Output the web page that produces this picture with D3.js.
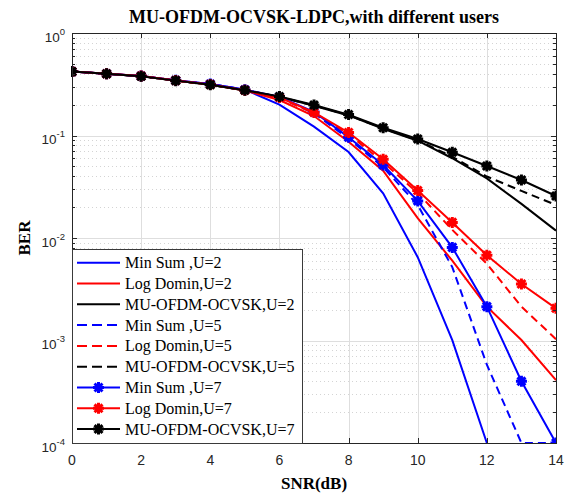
<!DOCTYPE html>
<html>
<head>
<meta charset="utf-8">
<script src="https://cdn.jsdelivr.net/npm/d3@7"></script>
<style>
  body { margin: 0; background: #fff; }
  svg { display: block; }
</style>
</head>
<body>
<div id="chart"></div>
<script>
// SNR values (dB)
var snr = [0, 1, 2, 3, 4, 5, 6, 7, 8, 9, 10, 11, 12, 13, 14];

// BER series (null = not drawn, zero BER)
var minSumU2  = [0.42, 0.40, 0.38, 0.345, 0.318, 0.28, 0.20, 0.122, 0.069, 0.0273, 0.0065, 0.00101, 0.0001, null, null];
var logDomU2  = [0.42, 0.40, 0.38, 0.344, 0.315, 0.275, 0.222, 0.155, 0.087, 0.0454, 0.0156, 0.006, 0.00214, 0.00101, 0.00041];
var muU2      = [0.42, 0.40, 0.378, 0.343, 0.312, 0.275, 0.238, 0.195, 0.157, 0.116, 0.089, 0.06, 0.0382, 0.0215, 0.0118];
var minSumU5  = [0.42, 0.40, 0.38, 0.345, 0.318, 0.28, 0.235, 0.165, 0.093, 0.049, 0.021, 0.0052, 0.00058, 0.0001, 0.0001];
var logDomU5  = [0.42, 0.40, 0.38, 0.344, 0.315, 0.276, 0.232, 0.165, 0.103, 0.055, 0.0275, 0.012, 0.0056, 0.00214, 0.00103];
var muU5      = [0.42, 0.40, 0.378, 0.343, 0.312, 0.276, 0.238, 0.196, 0.158, 0.117, 0.09, 0.062, 0.0398, 0.0288, 0.021];
var minSumU7  = [0.42, 0.40, 0.38, 0.345, 0.318, 0.28, 0.238, 0.17, 0.096, 0.0515, 0.023, 0.0081, 0.00214, 0.0004, 0.0001];
var logDomU7  = [0.42, 0.40, 0.38, 0.344, 0.315, 0.277, 0.235, 0.168, 0.107, 0.0586, 0.029, 0.0142, 0.0068, 0.00356, 0.00206];
var muU7      = [0.42, 0.40, 0.378, 0.343, 0.312, 0.277, 0.24, 0.198, 0.16, 0.119, 0.0925, 0.0686, 0.0504, 0.0368, 0.0257];

var seriesNames = ["Min Sum ,U=2", "Log Domin,U=2", "MU-OFDM-OCVSK,U=2",
                   "Min Sum ,U=5", "Log Domin,U=5", "MU-OFDM-OCVSK,U=5",
                   "Min Sum ,U=7", "Log Domin,U=7", "MU-OFDM-OCVSK,U=7"];
var seriesValues = [minSumU2, logDomU2, muU2, minSumU5, logDomU5, muU5, minSumU7, logDomU7, muU7];
var seriesColors = ["#0000ff", "#ff0000", "#000000", "#0000ff", "#ff0000", "#000000", "#0000ff", "#ff0000", "#000000"];
var seriesDashed = [false, false, false, true, true, true, false, false, false];
var seriesMarker = [false, false, false, false, false, false, true, true, true];

var xTicks = [0, 2, 4, 6, 8, 10, 12, 14];
var yTicks = [1, 0.1, 0.01, 0.001, 0.0001];
var yExponents = ["0", "-1", "-2", "-3", "-4"];

var titleText = "MU-OFDM-OCVSK-LDPC,with different users";
var xLabel = "SNR(dB)";
var yLabel = "BER";

// SVG drawing area
var W = 569, H = 493;
var margin = {top: 33, right: 13, bottom: 50, left: 72};
var width = W - margin.left - margin.right,
    height = H - margin.top - margin.bottom;

var svgRoot = d3.select("#chart").append("svg")
    .attr("width", W)
    .attr("height", H);
var svg = svgRoot.append("g")
    .attr("transform", "translate(" + margin.left + "," + margin.top + ")");

var xScale = d3.scaleLinear().domain([0, 14]).range([0, width]);
var yScale = d3.scaleLog().domain([1e-4, 1]).range([height, 0]);

var axisColor = "#262626";

// minor values for log grid
var minorVals = [];
for (var e = -4; e < 0; e++) {
  for (var m = 2; m <= 9; m++) minorVals.push(m * Math.pow(10, e));
}

// grids
svg.append("g").selectAll("line.minor")
  .data(minorVals).enter().append("line")
    .attr("x1", 0).attr("x2", width)
    .attr("y1", function(d) { return Math.round(yScale(d)) + 0.5; })
    .attr("y2", function(d) { return Math.round(yScale(d)) + 0.5; })
    .attr("stroke", "#d4d4d4")
    .attr("stroke-width", 1)
    .attr("stroke-dasharray", "1,3");

svg.append("g").selectAll("line.hgrid")
  .data(yTicks).enter().append("line")
    .attr("x1", 0).attr("x2", width)
    .attr("y1", function(d) { return Math.round(yScale(d)) + 0.5; })
    .attr("y2", function(d) { return Math.round(yScale(d)) + 0.5; })
    .attr("stroke", "#dedede");

svg.append("g").selectAll("line.vgrid")
  .data(xTicks).enter().append("line")
    .attr("x1", function(d) { return Math.round(xScale(d)) + 0.5; })
    .attr("x2", function(d) { return Math.round(xScale(d)) + 0.5; })
    .attr("y1", 0).attr("y2", height)
    .attr("stroke", "#dedede");

// clip for curves
svgRoot.append("defs").append("clipPath").attr("id", "plotclip")
  .append("rect").attr("x", -1).attr("y", -1).attr("width", width + 2).attr("height", height + 2);

var line = d3.line()
    .defined(function(d) { return d[1] !== null; })
    .x(function(d) { return xScale(d[0]); })
    .y(function(d) { return yScale(d[1]); });

var curves = svg.append("g").attr("clip-path", "url(#plotclip)");

// MATLAB style '*' marker
function drawStar(g, x, y, color) {
  var r = 5.5;
  var a = r * 0.72;
  var p = "M" + (x - r) + "," + y + "L" + (x + r) + "," + y +
          "M" + x + "," + (y - r) + "L" + x + "," + (y + r) +
          "M" + (x - a) + "," + (y - a) + "L" + (x + a) + "," + (y + a) +
          "M" + (x - a) + "," + (y + a) + "L" + (x + a) + "," + (y - a);
  g.append("path").attr("d", p)
    .attr("stroke", color).attr("stroke-width", 3).attr("fill", "none");
}

seriesValues.forEach(function(vals, i) {
  var pts = snr.map(function(s, j) { return [s, vals[j]]; });
  curves.append("path")
    .datum(pts)
    .attr("d", line)
    .attr("fill", "none")
    .attr("stroke", seriesColors[i])
    .attr("stroke-width", 2)
    .attr("stroke-dasharray", seriesDashed[i] ? "8,5" : null);
  if (seriesMarker[i]) {
    pts.forEach(function(p) {
      if (p[1] !== null) drawStar(curves, xScale(p[0]), yScale(p[1]), seriesColors[i]);
    });
  }
});

// frame and ticks
var frame = svg.append("g");
frame.append("rect")
  .attr("x", 0.5).attr("y", 0.5).attr("width", width).attr("height", height)
  .attr("fill", "none").attr("stroke", axisColor).attr("stroke-width", 1);

xTicks.forEach(function(t) {
  var x = Math.round(xScale(t)) + 0.5;
  frame.append("line").attr("x1", x).attr("x2", x).attr("y1", height).attr("y2", height - 5).attr("stroke", axisColor);
  frame.append("line").attr("x1", x).attr("x2", x).attr("y1", 0).attr("y2", 5).attr("stroke", axisColor);
  svg.append("text")
    .attr("x", xScale(t)).attr("y", height + 22)
    .attr("text-anchor", "middle")
    .style("font-family", "Liberation Sans, Arial, sans-serif")
    .style("font-size", "14px")
    .attr("fill", axisColor)
    .text(t);
});

yTicks.forEach(function(t) {
  var y = Math.round(yScale(t)) + 0.5;
  frame.append("line").attr("x1", 0).attr("x2", 5).attr("y1", y).attr("y2", y).attr("stroke", axisColor);
  frame.append("line").attr("x1", width).attr("x2", width - 5).attr("y1", y).attr("y2", y).attr("stroke", axisColor);
});
minorVals.forEach(function(t) {
  var y = Math.round(yScale(t)) + 0.5;
  frame.append("line").attr("x1", 0).attr("x2", 3).attr("y1", y).attr("y2", y).attr("stroke", axisColor);
  frame.append("line").attr("x1", width).attr("x2", width - 3).attr("y1", y).attr("y2", y).attr("stroke", axisColor);
});

// y tick labels as 10^n
yTicks.forEach(function(t, i) {
  var txt = svg.append("text")
    .attr("x", -7).attr("y", yScale(t) + 8.5)
    .attr("text-anchor", "end")
    .style("font-family", "Liberation Sans, Arial, sans-serif")
    .style("font-size", "13.5px")
    .attr("fill", axisColor);
  txt.append("tspan").text("10");
  txt.append("tspan").attr("dy", -7).style("font-size", "9.5px").text(yExponents[i]);
});

// legend
var leg = svg.append("g").attr("transform", "translate(0," + (249 - margin.top) + ")");
var legW = 230, legH = 194, rowH = 20.8;
leg.append("rect")
  .attr("x", 0.5).attr("y", 0.5).attr("width", legW).attr("height", legH)
  .attr("fill", "#fff").attr("stroke", "#3a3a3a").attr("stroke-width", 1);
seriesNames.forEach(function(name, i) {
  var cy = 13.7 + i * rowH;
  leg.append("line")
    .attr("x1", 5).attr("x2", 48).attr("y1", cy).attr("y2", cy)
    .attr("stroke", seriesColors[i]).attr("stroke-width", 2)
    .attr("stroke-dasharray", seriesDashed[i] ? "10,5" : null);
  if (seriesMarker[i]) drawStar(leg, 26.5, cy, seriesColors[i]);
  leg.append("text")
    .attr("x", 53).attr("y", cy + 5.5)
    .style("font-family", "Liberation Serif, Times New Roman, serif")
    .style("font-size", "16px")
    .attr("fill", "#000")
    .text(name);
});

// title and axis labels
svgRoot.append("text")
  .attr("x", margin.left + width / 2).attr("y", 23)
  .attr("text-anchor", "middle")
  .style("font-family", "Liberation Serif, Times New Roman, serif")
  .style("font-weight", "bold")
  .style("font-size", "18px")
  .attr("fill", "#000")
  .text(titleText);

svgRoot.append("text")
  .attr("x", margin.left + width / 2).attr("y", 489)
  .attr("text-anchor", "middle")
  .style("font-family", "Liberation Serif, Times New Roman, serif")
  .style("font-weight", "bold")
  .style("font-size", "17px")
  .attr("fill", "#000")
  .text(xLabel);

svgRoot.append("text")
  .attr("transform", "translate(30," + (margin.top + height / 2) + ") rotate(-90)")
  .attr("text-anchor", "middle")
  .style("font-family", "Liberation Serif, Times New Roman, serif")
  .style("font-weight", "bold")
  .style("font-size", "17px")
  .attr("fill", "#000")
  .text(yLabel);
</script>
</body>
</html>
